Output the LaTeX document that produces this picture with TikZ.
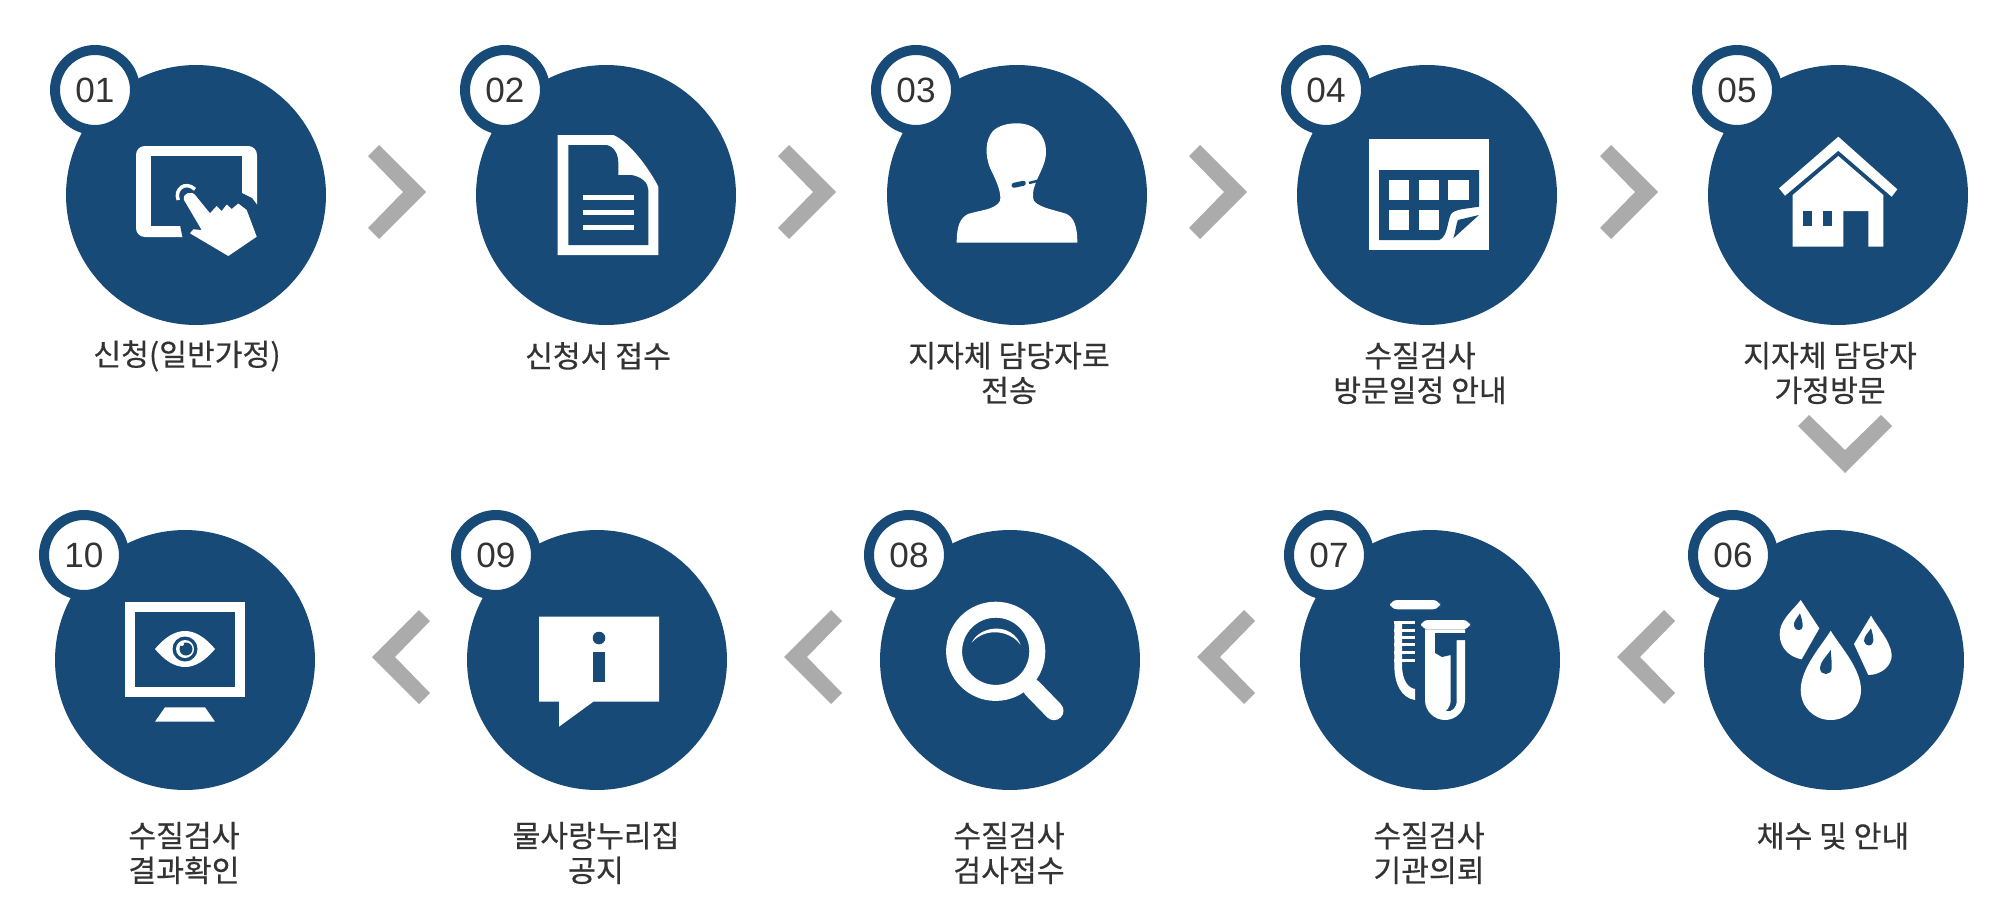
\documentclass[tikz,border=0pt]{standalone}
\usepackage{fontspec}
\setmainfont{Liberation Sans}
\newfontfamily\krfont[FakeBold=0.5]{Noto Sans CJK KR}
\definecolor{stepnavy}{HTML}{174A77}
\definecolor{chevgray}{HTML}{ABABAB}
\definecolor{labelgray}{HTML}{333333}
\tikzset{
  stepcircle/.style={circle,fill=stepnavy,minimum size=5.2cm,inner sep=0pt},
  badge/.style={circle,fill=white,draw=stepnavy,line width=0.2cm,minimum size=1.6cm,inner sep=0pt,text=labelgray,font=\fontsize{20}{20}\selectfont},
  steplabel/.style={align=center,text=labelgray,font=\krfont\fontsize{17.2}{19.8}\selectfont},
  chevron/.pic={\fill[chevgray] (0,0) -- (-47,-47) -- (-58,-36) -- (-23,0) -- (-58,36) -- (-47,47) -- cycle;}
}
\begin{document}
\begin{tikzpicture}[x=0.02cm,y=-0.02cm]
  \useasboundingbox (0,0) rectangle (2006,916);
  \node[stepcircle] (step1) at (196,195) {};
  \node[stepcircle] (step2) at (606,195) {};
  \node[stepcircle] (step3) at (1017,195) {};
  \node[stepcircle] (step4) at (1427,195) {};
  \node[stepcircle] (step5) at (1838,195) {};
  \node[stepcircle] (step6) at (1834,660) {};
  \node[stepcircle] (step7) at (1430,660) {};
  \node[stepcircle] (step8) at (1010,660) {};
  \node[stepcircle] (step9) at (597,660) {};
  \node[stepcircle] (step10) at (185,660) {};
  \node[badge] (badge1) at (95,90) {01};
  \node[badge] (badge2) at (505,90) {02};
  \node[badge] (badge3) at (916,90) {03};
  \node[badge] (badge4) at (1326,90) {04};
  \node[badge] (badge5) at (1737,90) {05};
  \node[badge] (badge6) at (1733,555) {06};
  \node[badge] (badge7) at (1329,555) {07};
  \node[badge] (badge8) at (909,555) {08};
  \node[badge] (badge9) at (496,555) {09};
  \node[badge] (badge10) at (84,555) {10};
  \node[steplabel] (label1) at (187,356) {신청(일반가정)};
  \node[steplabel] (label2) at (598,356) {신청서 접수};
  \node[steplabel] (label3) at (1009,373) {지자체 담당자로\\전송};
  \node[steplabel] (label4) at (1420,373) {수질검사\\방문일정 안내};
  \node[steplabel] (label5) at (1830,373) {지자체 담당자\\가정방문};
  \node[steplabel] (label6) at (1833,836) {채수 및 안내};
  \node[steplabel] (label7) at (1429,853) {수질검사\\기관의뢰};
  \node[steplabel] (label8) at (1009,853) {수질검사\\검사접수};
  \node[steplabel] (label9) at (596,853) {물사랑누리집\\공지};
  \node[steplabel] (label10) at (184,853) {수질검사\\결과확인};
  \pic at (426,192) {chevron};
  \pic at (836,192) {chevron};
  \pic at (1247,192) {chevron};
  \pic at (1658,192) {chevron};
  \pic[rotate=-90] at (1845,473) {chevron};
  \pic[rotate=180] at (1617,657) {chevron};
  \pic[rotate=180] at (1197,657) {chevron};
  \pic[rotate=180] at (784,657) {chevron};
  \pic[rotate=180] at (372,657) {chevron};
  % tablet
  \fill[white,rounded corners=5] (136,146) rectangle (257,237);
  \fill[stepnavy] (151,156) rectangle (242,226);
  \fill[stepnavy] (180,225) -- (183,240) -- (261,240) -- (261,210) -- (252,198) -- (242,193) -- (230,198) -- cycle;
  \fill[white] (184,200) .. controls (182,193) and (192,190) .. (195.7,195.7) -- (210,213.3) -- (216.7,206) -- (221.7,211) -- (226.7,204.5) -- (231.7,209) -- (238.3,203.5) -- (246.7,210) -- (256.7,236.7) -- (228.3,256) -- (190,233.3) -- (193.3,229.3) -- (201.7,230) -- cycle;
  \draw[white,line width=0.07cm] (178.3,200) .. controls (174,190) and (185,180) .. (195,189.3);
  % document
  \fill[white] (557.7,135) -- (613.3,135) .. controls (630,142) and (650,170) .. (658.3,186.7) -- (658.3,255) -- (557.7,255) -- cycle;
  \fill[stepnavy] (568.3,145) -- (606.7,145) .. controls (615,147) and (618.3,155) .. (618.3,163.3) -- (618.3,175) -- (631.7,175) .. controls (642,177) and (648.3,183) .. (648.3,190) -- (648.3,245) -- (568.3,245) -- cycle;
  \draw[white,line width=0.1cm] (582.7,197.3) -- (634,197.3);
  \draw[white,line width=0.1cm] (582.7,212.3) -- (634,212.3);
  \draw[white,line width=0.1cm] (582.7,227.3) -- (634,227.3);
  % person
  \fill[white] (1016.7,123.3) .. controls (1035,123.3) and (1046,135) .. (1046,152) .. controls (1046,165) and (1038,175) .. (1035,185) .. controls (1033,190) and (1032,197) .. (1034,201) .. controls (1040,208) and (1055,210) .. (1066.7,214) .. controls (1074,218) and (1077.3,226) .. (1077.3,242.7) -- (956.7,242.7) .. controls (956.7,226) and (960,218) .. (968,214) .. controls (980,210) and (995,210) .. (1000,201) .. controls (1002,192) and (995,178) .. (990,168) .. controls (985,155) and (985,140) .. (993,131) .. controls (998,126) and (1007,123.3) .. (1016.7,123.3) -- cycle;
  \draw[stepnavy,line width=0.1cm,line cap=round] (1014,185.3) -- (1023.3,183.3);
  \draw[stepnavy,line width=0.05cm] (1029,183) -- (1041,180);
  % calendar
  \fill[white] (1369,139.3) rectangle (1489,250.3);
  \fill[stepnavy] (1379,170) -- (1479,170) -- (1479,206.7) .. controls (1465,209) and (1455,209) .. (1451,214) .. controls (1447,222) and (1448,236) .. (1439.3,240) -- (1379,240) -- cycle;
  \fill[white] (1389,180) rectangle (1409.3,200);
  \fill[white] (1418.7,180) rectangle (1439,200);
  \fill[white] (1448.3,180) rectangle (1469,200);
  \fill[white] (1389,210) rectangle (1409.3,230);
  \fill[white] (1418.7,210) rectangle (1439,230);
  \fill[stepnavy] (1479,215) -- (1453.3,238.3) .. controls (1456,230) and (1456,224) .. (1458,220) -- cycle;
  % house
  \fill[white] (1838.3,136.7) -- (1897.3,189.3) -- (1891.7,196.7) -- (1838.3,150.7) -- (1785,195.7) -- (1779,188.3) -- cycle;
  \fill[white] (1838.3,156) -- (1883.3,195) -- (1883.3,246.7) -- (1868.3,246.7) -- (1868.3,211) -- (1843.3,211) -- (1843.3,246.7) -- (1792.7,246.7) -- (1792.7,195) -- cycle;
  \fill[stepnavy] (1803.3,211) rectangle (1812.3,225.7);
  \fill[stepnavy] (1823.3,211) rectangle (1832.3,225.7);
  % drops
  \fill[white] (1830.7,630.7) .. controls (1822,645) and (1800.7,668) .. (1800.7,690) .. controls (1800.7,707) and (1814,720) .. (1830.7,720) .. controls (1847,720) and (1861,707) .. (1861,690) .. controls (1861,668) and (1839,645) .. (1830.7,630.7) -- cycle;
  \fill[stepnavy] (1830.7,650) .. controls (1826,657) and (1820,662) .. (1820,668) .. controls (1820,676) and (1831.7,676) .. (1831.7,668) .. controls (1832,662) and (1831,656) .. (1830.7,650) -- cycle;
  \fill[white] (1800.7,600) -- (1819.3,628.3) -- (1801.7,659.3) .. controls (1785,656) and (1778,643) .. (1780,630) .. controls (1782,618) and (1795,608) .. (1800.7,600) -- cycle;
  \fill[stepnavy] (1800,613.3) .. controls (1797,618) and (1793,622) .. (1794,626) .. controls (1795,632) and (1803,631) .. (1802.7,626) .. controls (1802.7,621) and (1801,617) .. (1800,613.3) -- cycle;
  \fill[white] (1871,615.7) -- (1854,644) -- (1868.3,675) .. controls (1882,675) and (1892,665) .. (1891.7,655) .. controls (1891,642) and (1878,628) .. (1871,615.7) -- cycle;
  \fill[stepnavy] (1871,628.3) .. controls (1868,633) and (1864,636) .. (1864,641) .. controls (1865,647) and (1873,647) .. (1873.3,641) .. controls (1873.5,636) and (1872,632) .. (1871,628.3) -- cycle;
  % tubes
  \fill[white,rounded corners=4] (1390,600) rectangle (1440,609.3);
  \fill[white,rounded corners=4] (1421,620) rectangle (1470,629.3);
  \fill[white] (1394.3,622) -- (1402,622) -- (1402,665) .. controls (1402,680) and (1408,688) .. (1415,689) -- (1415,700) .. controls (1402,698) and (1394.3,685) .. (1394.3,665) -- cycle;
  \fill[white] (1394.3,621) rectangle (1415,624);
  \fill[white] (1394.3,629) rectangle (1415,631.5);
  \fill[white] (1394.3,636) rectangle (1415,638.5);
  \fill[white] (1394.3,643) rectangle (1415,645.5);
  \fill[white] (1394.3,651) rectangle (1415,653.5);
  \fill[white] (1394.3,659) rectangle (1415,661.5);
  \fill[white] (1425,629.3) -- (1465,629.3) -- (1465,700) .. controls (1465,711) and (1456,720) .. (1445,720) .. controls (1434,720) and (1425,711) .. (1425,700) -- cycle;
  \fill[stepnavy] (1435,633) -- (1470,633) -- (1470,640) -- (1456.7,640) -- (1456.7,700) .. controls (1456.7,708) and (1452,712) .. (1446,711) .. controls (1449,708) and (1450.7,705) .. (1450.7,700) -- (1450.7,655) -- (1442,657) -- (1435,653) -- cycle;
  % magnifier
  \draw[white,line width=0.32cm] (995.7,651.3) circle (41.6);
  \draw[white,line width=0.38cm,line cap=round] (1032,688) -- (1054,710.7);
  \fill[white] (971.7,642.7) .. controls (980,625) and (1012,622) .. (1020.7,645) .. controls (1010,630) and (985,627) .. (971.7,642.7) -- cycle;
  % notice
  \fill[white] (539,616.7) -- (659,616.7) -- (659,701.7) -- (593.3,701.7) -- (559,726.7) -- (559,701.7) -- (539,701.7) -- cycle;
  \fill[stepnavy] (599,638) circle (6.3);
  \fill[stepnavy] (593.3,652.3) rectangle (605,681.7);
  % monitor
  \fill[white] (125,602.3) rectangle (245,697.3);
  \fill[stepnavy] (135,612.3) rectangle (235,686.7);
  \fill[white] (165,707.3) -- (205,707.3) -- (215,721.7) -- (155,721.7) -- cycle;
  \fill[white] (155,649) .. controls (165,637) and (175,631) .. (185,631) .. controls (195,631) and (205,637) .. (215,649) .. controls (205,661) and (195,667) .. (185,667) .. controls (175,667) and (165,661) .. (155,649) -- cycle;
  \fill[stepnavy] (185,649) circle (12.5);
  \fill[white] (185,649) circle (9);
  \fill[stepnavy] (186,649) circle (6.5);
  \fill[white] (182,644) circle (2);
\end{tikzpicture}
\end{document}
